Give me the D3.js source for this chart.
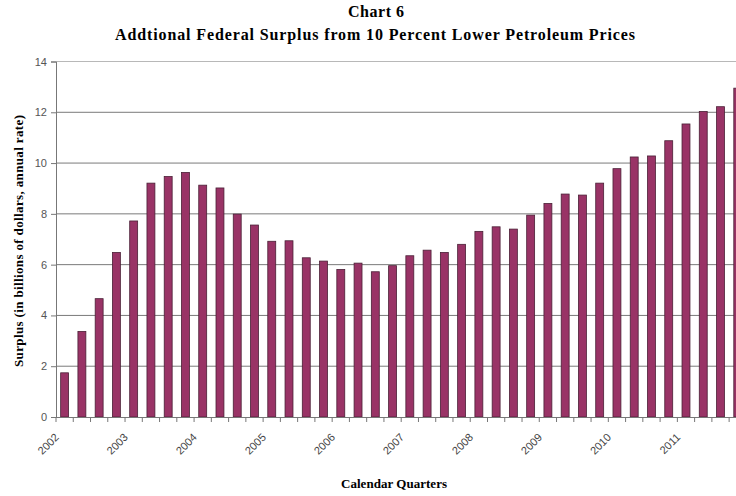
<!DOCTYPE html>
<html><head><meta charset="utf-8">
<script src="https://cdn.jsdelivr.net/npm/d3@7"></script>
<style>body{margin:0;background:#fff}svg{display:block}</style>
</head><body>
<svg id="c" width="736" height="496"></svg>
<script>
const title = "Chart 6";
const subtitle = "Addtional Federal Surplus from 10 Percent Lower Petroleum Prices";
const yTitle = "Surplus (in billions of dollars, annual rate)";
const xTitle = "Calendar Quarters";
const years = ["2002","2003","2004","2005","2006","2007","2008","2009","2010","2011"];
const quarters = ["Q1","Q2","Q3","Q4"];
const values = [1.74,3.37,4.66,6.48, 7.72,9.21,9.47,9.63, 9.13,9.02,7.99,7.56,
  6.92,6.94,6.27,6.14, 5.81,6.06,5.72,5.96, 6.35,6.57,6.48,6.80,
  7.31,7.49,7.40,7.95, 8.41,8.78,8.74,9.21, 9.78,10.24,10.28,10.88,
  11.54,12.03,12.22,12.95];
const yTicks = [0,2,4,6,8,10,12,14];

const categories = [];
years.forEach(y => quarters.forEach(q => categories.push(y + " " + q)));
const data = categories.map((c,i) => ({c, v: values[i], year: c.split(" ")[0], q: c.split(" ")[1]}));

const svg = d3.select("#c");
const plotLeft = 56, plotBottom = 417, plotTop = 61.5;
const x = d3.scaleBand().domain(categories).range([plotLeft, plotLeft + 40*17.26]).paddingInner(0.54).paddingOuter(0.27);
const y = d3.scaleLinear().domain([0,14]).range([plotBottom, plotTop]);

// gridlines
svg.append("g").selectAll("line").data(yTicks.filter(t=>t>0)).join("line")
  .attr("x1", plotLeft).attr("x2", 736).attr("y1", d=>y(d)).attr("y2", d=>y(d))
  .attr("stroke", d => d===14 ? "#b8b8b8" : "#7a7a7a").attr("stroke-width", 1);

// bars
svg.append("g").selectAll("rect").data(data).join("rect")
  .attr("x", d=>x(d.c)).attr("width", x.bandwidth())
  .attr("y", d=>y(d.v)).attr("height", d=>plotBottom - y(d.v))
  .attr("fill", "#993366").attr("stroke", "#4a2036").attr("stroke-width", 0.8);

// y axis
const yAxis = d3.axisLeft(y).tickValues(yTicks).tickSize(5).tickPadding(4).tickFormat(d3.format("d"));
const gy = svg.append("g").attr("transform", `translate(${plotLeft},0)`).call(yAxis);
gy.select(".domain").attr("stroke", "#777");
gy.selectAll(".tick line").attr("stroke", "#777");
gy.selectAll("text").attr("fill", "#555").attr("font-family", "Liberation Sans, Arial, sans-serif").attr("font-size", 11);

// x axis (ticks at category boundaries)
const bounds = d3.range(41).map(i => plotLeft + i*x.step());
svg.append("line").attr("x1", plotLeft).attr("x2", 736).attr("y1", plotBottom+0.5).attr("y2", plotBottom+0.5).attr("stroke", "#777");
svg.append("g").selectAll("line").data(bounds).join("line")
  .attr("x1", d=>d).attr("x2", d=>d).attr("y1", plotBottom).attr("y2", plotBottom+5).attr("stroke", "#777");

// year labels
svg.append("g").selectAll("text").data(data.filter(d=>d.q==="Q1")).join("text")
  .attr("transform", d => `translate(${x(d.c)+x.bandwidth()/2-5},438) rotate(-45)`)
  .attr("text-anchor", "end")
  .attr("fill", "#444").attr("font-family", "Liberation Sans, Arial, sans-serif").attr("font-size", 11)
  .text(d=>d.year);

// titles
const serif = "Liberation Serif, Times New Roman, serif";
svg.append("text").attr("x", 376).attr("y", 17).attr("text-anchor", "middle")
  .attr("font-family", serif).attr("font-weight", "bold").attr("font-size", 16)
  .attr("textLength", 56).attr("lengthAdjust", "spacing")
  .text(title);
svg.append("text").attr("x", 375).attr("y", 40).attr("text-anchor", "middle")
  .attr("font-family", serif).attr("font-weight", "bold").attr("font-size", 16)
  .attr("textLength", 520).attr("lengthAdjust", "spacing")
  .text(subtitle);
svg.append("text").attr("transform", "translate(23,241) rotate(-90)").attr("text-anchor", "middle")
  .attr("font-family", serif).attr("font-weight", "bold").attr("font-size", 13)
  .attr("textLength", 252).attr("lengthAdjust", "spacing")
  .text(yTitle);
svg.append("text").attr("x", 394).attr("y", 488).attr("text-anchor", "middle")
  .attr("font-family", serif).attr("font-weight", "bold").attr("font-size", 13)
  .attr("textLength", 106).attr("lengthAdjust", "spacing")
  .text(xTitle);
</script>
</body></html>
